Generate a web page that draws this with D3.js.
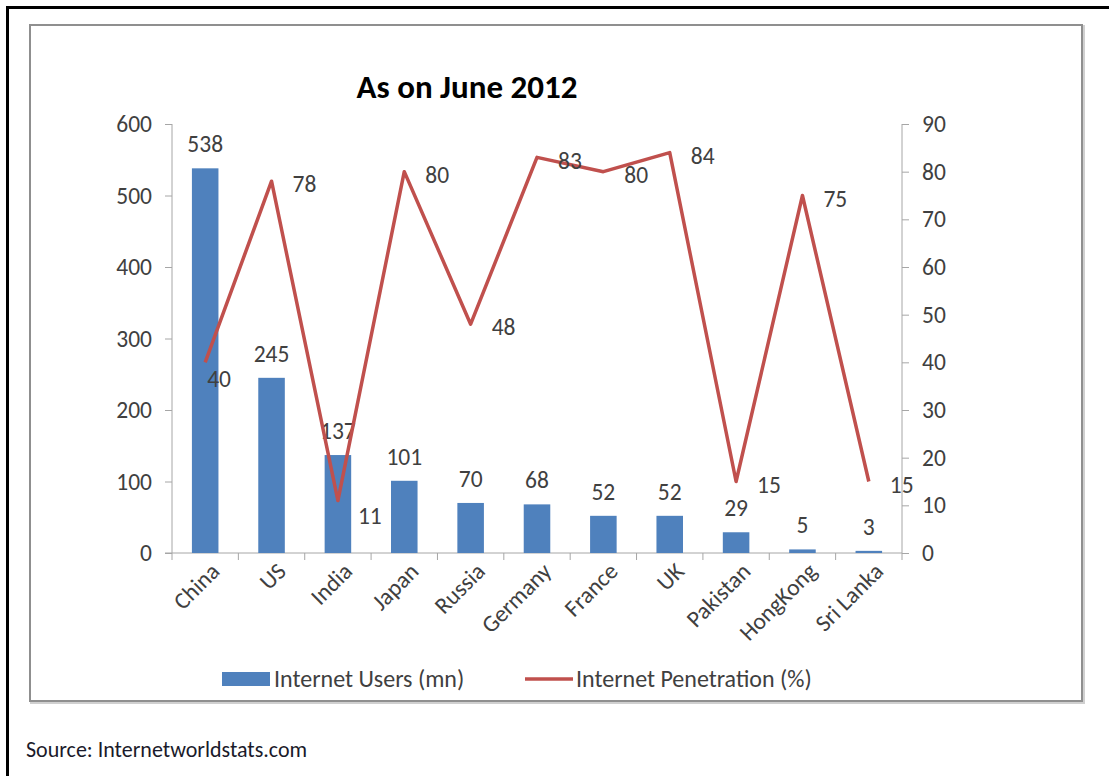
<!DOCTYPE html>
<html><head><meta charset="utf-8">
<script src="https://cdn.jsdelivr.net/npm/d3@7"></script>
<style>
html,body{margin:0;padding:0;background:#fff;}
svg{display:block;}
text{font-family:Carlito,Calibri,Lato,sans-serif;}
</style></head>
<body>
<svg id="chart" width="1109" height="776"></svg>
<script>
const categories = ["China","US","India","Japan","Russia","Germany","France","UK","Pakistan","HongKong","Sri Lanka"];
const internetUsers = [538,245,137,101,70,68,52,52,29,5,3];
const penetration = [40,78,11,80,48,83,80,84,15,75,15];
const leftTicks = [0,100,200,300,400,500,600];
const rightTicks = [0,10,20,30,40,50,60,70,80,90];
const seriesNames = ["Internet Users (mn)","Internet Penetration (%)"];
const titleText = "As on June 2012";
const sourceText = "Source: Internetworldstats.com";

const barColor = "#4F81BD", lineColor = "#C0504D", axisColor = "#a6a6a6", textColor = "#404040";
const FS = 23.5;

const svg = d3.select("#chart");

// outer black frame (top and left)
svg.append("line").attr("x1",7.5).attr("x2",1109).attr("y1",7.5).attr("y2",7.5).attr("stroke","#000").attr("stroke-width",3);
svg.append("line").attr("x1",7.5).attr("x2",7.5).attr("y1",6).attr("y2",776).attr("stroke","#000").attr("stroke-width",3);

// chart box with shadow
svg.append("rect").attr("x",31).attr("y",26).attr("width",1053).attr("height",677).attr("fill","none").attr("stroke","#d0d0d0").attr("stroke-width",2);
svg.append("rect").attr("x",30).attr("y",25).attr("width",1052).attr("height",676).attr("fill","#fff").attr("stroke","#8f8f8f").attr("stroke-width",2);

const x = d3.scaleBand().domain(categories).range([172,902]).padding(0);
const yL = d3.scaleLinear().domain([0,600]).range([553,124]);
const yR = d3.scaleLinear().domain([0,90]).range([553,124]);

// title
svg.append("text").attr("x",467).attr("y",98).attr("text-anchor","middle")
  .attr("font-size",33).attr("font-weight","bold").attr("fill","#000").text(titleText);

// left axis
const gL = svg.append("g").attr("transform","translate(172,0)")
  .call(d3.axisLeft(yL).tickValues(leftTicks).tickSize(7).tickPadding(13));
// right axis
const gR = svg.append("g").attr("transform","translate(902,0)")
  .call(d3.axisRight(yR).tickValues(rightTicks).tickSize(7).tickPadding(13));
// bottom axis with ticks at band boundaries
const gB = svg.append("g").attr("transform","translate(0,553)");
gB.append("line").attr("x1",165).attr("x2",902).attr("y1",0).attr("y2",0).attr("stroke",axisColor);
const boundaries = categories.map(c=>x(c)).concat([x.range()[1]]);
gB.selectAll("line.tk").data(boundaries).join("line").attr("class","tk")
  .attr("x1",d=>d).attr("x2",d=>d).attr("y1",0).attr("y2",7).attr("stroke",axisColor);

[gL,gR].forEach(g=>{
  g.select(".domain").attr("stroke",axisColor);
  g.selectAll(".tick line").attr("stroke",axisColor);
  g.selectAll(".tick text").attr("fill",textColor).attr("font-size",FS).attr("font-family","Carlito,Calibri,Lato,sans-serif");
});
gL.select(".domain").attr("d","M0,124V553");
gR.select(".domain").attr("d","M0,124V553");

// category labels
svg.append("g").selectAll("text").data(categories).join("text")
  .attr("transform",d=>`translate(${x(d)+x.bandwidth()/2+4},561) rotate(-45)`)
  .attr("text-anchor","end").attr("dy","0.71em")
  .attr("font-size",FS).attr("fill",textColor).text(d=>d);

// bars
const bw = x.bandwidth()/2.5;
svg.append("g").selectAll("rect").data(internetUsers).join("rect")
  .attr("x",(d,i)=>x(categories[i])+x.bandwidth()/2-bw/2)
  .attr("width",bw)
  .attr("y",d=>yL(d)).attr("height",d=>553-yL(d))
  .attr("fill",barColor);

// bar labels
svg.append("g").selectAll("text").data(internetUsers).join("text")
  .attr("x",(d,i)=>x(categories[i])+x.bandwidth()/2)
  .attr("y",d=>yL(d)-16)
  .attr("text-anchor","middle").attr("font-size",FS).attr("fill",textColor).text(d=>d);

// line
const cx = i => x(categories[i])+x.bandwidth()/2;
const line = d3.line().x((d,i)=>cx(i)).y(d=>yR(d));
svg.append("path").datum(penetration).attr("d",line).attr("fill","none")
  .attr("stroke",lineColor).attr("stroke-width",3.5).attr("stroke-linejoin","round");

// line labels (right of point; a couple manually nudged as in source)
const nudge = {0:[2,16],2:[20,15]};
svg.append("g").selectAll("text").data(penetration).join("text")
  .attr("x",(d,i)=>cx(i)+(nudge[i]?nudge[i][0]:21))
  .attr("y",(d,i)=>yR(d)+(nudge[i]?nudge[i][1]:3))
  .attr("dy","0.35em")
  .attr("font-size",FS).attr("fill",textColor).text(d=>d);

// legend
const lg = svg.append("g");
lg.append("rect").attr("x",222).attr("y",672).attr("width",48).attr("height",14).attr("fill",barColor);
lg.append("text").attr("x",274).attr("y",679).attr("dy","0.35em").attr("font-size",FS+0.5).attr("fill",textColor).text(seriesNames[0]);
lg.append("line").attr("x1",525).attr("x2",573).attr("y1",679).attr("y2",679).attr("stroke",lineColor).attr("stroke-width",3.5);
lg.append("text").attr("x",576).attr("y",679).attr("dy","0.35em").attr("font-size",FS+0.5).attr("fill",textColor).text(seriesNames[1]);

// source
svg.append("text").attr("x",26).attr("y",757).attr("font-size",22).attr("fill","#1a1a2a").text(sourceText);
</script>
</body></html>
